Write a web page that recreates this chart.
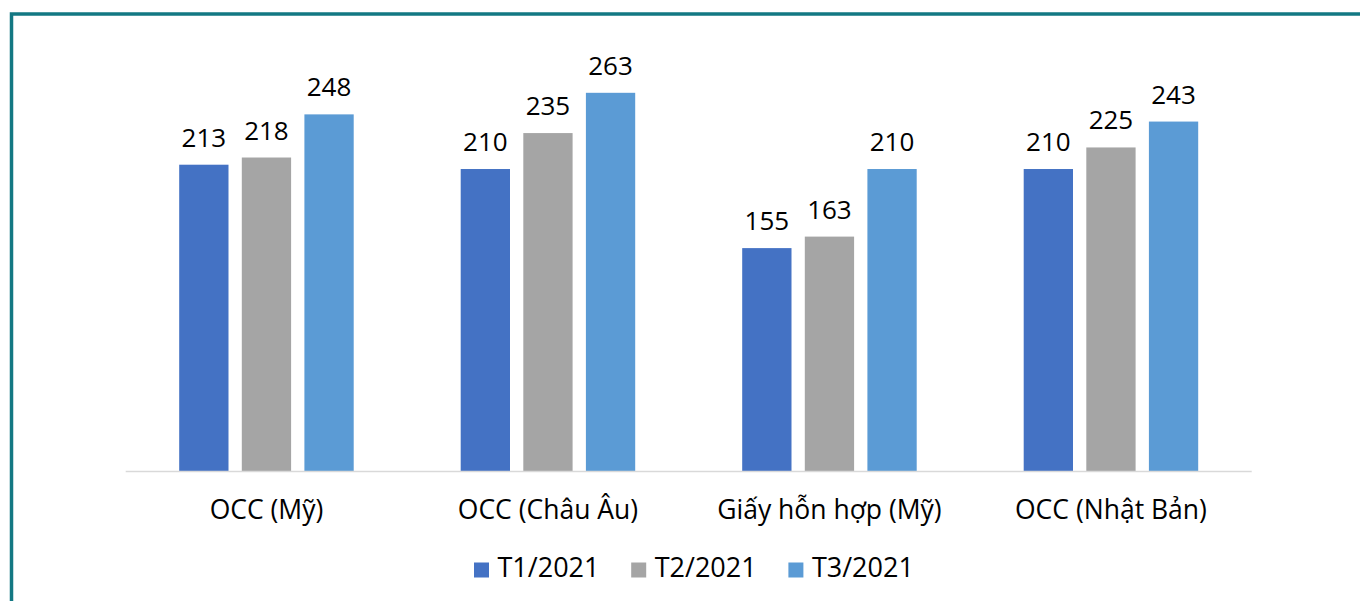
<!DOCTYPE html>
<html>
<head>
<meta charset="utf-8">
<script src="https://cdn.jsdelivr.net/npm/d3@7"></script>
<style>
  html, body { margin: 0; padding: 0; background: #fff; }
  svg { display: block; }
  text { font-family: "Open Sans", "Noto Sans", sans-serif; fill: #000; }
</style>
</head>
<body>
<script>
var categories = ['OCC (Mỹ)', 'OCC (Châu Âu)', 'Giấy hỗn hợp (Mỹ)', 'OCC (Nhật Bản)'];
var seriesNames = ['T1/2021', 'T2/2021', 'T3/2021'];
var t1Values = [213, 210, 155, 210];
var t2Values = [218, 235, 163, 225];
var t3Values = [248, 263, 210, 243];
var seriesColors = ['#4472C4', '#A5A5A5', '#5B9BD5'];

(function() {
  var w = 1360;
  var h = 601;
  var seriesValues = [t1Values, t2Values, t3Values];

  var svg = d3
    .select('body')
    .append('svg')
    .attr('width', w)
    .attr('height', h);

  // teal frame, only top and left edges are in view
  svg
    .append('rect')
    .attr('x', 11.5)
    .attr('y', 14)
    .attr('width', 1500)
    .attr('height', 800)
    .attr('fill', 'none')
    .attr('stroke', '#137883')
    .attr('stroke-width', 3.5);

  var x0 = d3
    .scaleBand()
    .domain(categories)
    .range([125.7, 1251.7]);

  var mid = x0.bandwidth() / 2;
  var x1 = d3
    .scaleBand()
    .domain(seriesNames)
    .range([mid - 87.25, mid + 87.25])
    .paddingInner(0.2125);

  var y = d3
    .scaleLinear()
    .domain([0, 300])
    .range([471, 39.6]);

  var rows = [];
  categories.forEach(function(c, ci) {
    seriesNames.forEach(function(s, si) {
      rows.push({ cat: c, series: s, si: si, value: seriesValues[si][ci] });
    });
  });

  var groups = svg
    .selectAll('g.group')
    .data(categories)
    .enter()
    .append('g')
    .attr('class', 'group')
    .attr('transform', d => `translate(${x0(d)},0)`);

  groups
    .selectAll('rect')
    .data(c => rows.filter(r => r.cat === c))
    .enter()
    .append('rect')
    .attr('x', d => x1(d.series))
    .attr('y', d => y(d.value))
    .attr('width', x1.bandwidth())
    .attr('height', d => y(0) - y(d.value))
    .attr('fill', d => seriesColors[d.si]);

  groups
    .selectAll('text.value')
    .data(c => rows.filter(r => r.cat === c))
    .enter()
    .append('text')
    .attr('class', 'value')
    .text(d => d.value)
    .attr('x', d => x1(d.series) + x1.bandwidth() / 2)
    .attr('y', d => y(d.value) - 18)
    .attr('font-size', '26px')
    .attr('text-anchor', 'middle');

  // baseline
  svg
    .append('line')
    .attr('x1', x0.range()[0])
    .attr('x2', x0.range()[1])
    .attr('y1', y(0) + 0.5)
    .attr('y2', y(0) + 0.5)
    .attr('stroke', '#D9D9D9')
    .attr('stroke-width', 1.5);

  svg
    .selectAll('text.cat')
    .data(categories)
    .enter()
    .append('text')
    .attr('class', 'cat')
    .text(d => d)
    .attr('x', d => x0(d) + mid)
    .attr('y', 519)
    .attr('font-size', '26.5px')
    .attr('text-anchor', 'middle');

  // legend
  var legend = svg
    .selectAll('g.legend')
    .data(seriesNames)
    .enter()
    .append('g')
    .attr('class', 'legend')
    .attr('transform', (d, i) => `translate(${474 + i * 157.2},0)`);

  legend
    .append('rect')
    .attr('x', 0)
    .attr('y', 562.5)
    .attr('width', 15)
    .attr('height', 15)
    .attr('fill', (d, i) => seriesColors[i]);

  legend
    .append('text')
    .text(d => d)
    .attr('x', 23.5)
    .attr('y', 577.3)
    .attr('font-size', '27px');
})();
</script>
</body>
</html>
